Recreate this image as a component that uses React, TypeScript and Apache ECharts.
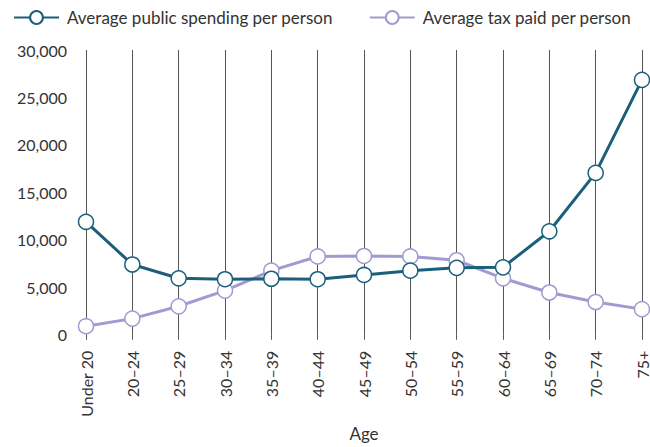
import React, { useEffect, useRef } from "react";
import * as echarts from "echarts";

const categories = ["Under 20", "20–24", "25–29", "30–34", "35–39", "40–44", "45–49", "50–54", "55–59", "60–64", "65–69", "70–74", "75+"];
const spending = [11900, 7400, 5950, 5850, 5900, 5850, 6300, 6750, 7050, 7100, 10900, 17050, 26850];
const tax = [900, 1700, 3000, 4650, 6750, 8250, 8300, 8250, 7850, 5950, 4450, 3450, 2700];
const yTicks = [0, 5000, 10000, 15000, 20000, 25000, 30000];

const FONT = "Lato";
const TEAL = "#1b5f7b";
const PURPLE = "#a19bd1";

export default function App() {
  const ref = useRef<HTMLDivElement>(null);
  useEffect(() => {
    if (!ref.current) return;
    const chart = echarts.init(ref.current, undefined, { renderer: "svg" });
    chart.setOption({
      animation: false,
      textStyle: { fontFamily: FONT },
      legend: {
        left: 13,
        top: 9,
        padding: 0,
        itemWidth: 45,
        itemHeight: 16,
        itemGap: 36,
        data: ["Average public spending per person", "Average tax paid per person"],
        textStyle: { fontFamily: FONT, fontSize: 17, color: "#333", padding: [0, 0, 0, 3] },
      },
      grid: { left: 86, right: 5, top: 50, bottom: 102 },
      xAxis: {
        type: "category",
        data: categories,
        boundaryGap: false,
        name: "Age",
        nameLocation: "middle",
        nameGap: 88,
        nameTextStyle: { fontFamily: FONT, fontSize: 17, color: "#333" },
        axisLine: { show: false },
        axisTick: { show: true, length: 5, lineStyle: { color: "#555", width: 1 } },
        axisLabel: { rotate: 90, margin: 16, fontSize: 16, color: "#333", fontFamily: FONT },
        splitLine: { show: true, lineStyle: { color: "#555", width: 1 } },
      },
      yAxis: {
        type: "value",
        min: yTicks[0],
        max: yTicks[yTicks.length - 1],
        interval: 5000,
        axisLine: { show: false },
        axisTick: { show: false },
        splitLine: { show: false },
        axisLabel: {
          margin: 19,
          fontSize: 16,
          color: "#333",
          fontFamily: FONT,
          formatter: (v: number) => v.toLocaleString("en-US"),
        },
      },
      series: [
        {
          name: "Average tax paid per person",
          type: "line",
          data: tax,
          z: 2,
          symbol: "circle",
          symbolSize: 15,
          lineStyle: { color: PURPLE, width: 3 },
          itemStyle: { color: "#fff", borderColor: PURPLE, borderWidth: 1.5 },
        },
        {
          name: "Average public spending per person",
          type: "line",
          data: spending,
          z: 3,
          symbol: "circle",
          symbolSize: 15,
          lineStyle: { color: TEAL, width: 3 },
          itemStyle: { color: "#fff", borderColor: TEAL, borderWidth: 1.5 },
        },
      ],
    });
    return () => chart.dispose();
  }, []);
  return (
    <div
      ref={ref}
      style={{ position: "fixed", left: 0, top: 0, width: 650, height: 447, background: "#fff" }}
    />
  );
}
